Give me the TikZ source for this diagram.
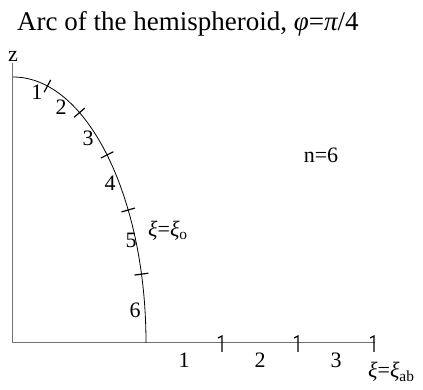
\documentclass[tikz,border=0pt]{standalone}
\usepackage{fontspec}
\setmainfont{Liberation Serif}
\usetikzlibrary{calc}

\begin{document}
\begin{tikzpicture}[x=1pt, y=1pt,
    axe/.style={line width=1pt, black!55},
    meridien/.style={line width=0.8pt},
    trait/.style={line width=1.2pt},
    num/.style={font=\fontsize{22}{22}\selectfont, inner sep=1pt},
    titre/.style={font=\fontsize{27}{27}\selectfont, inner sep=0pt},
  ]
  \useasboundingbox (-13,-47) rectangle (410,343);
  \node[titre, anchor=base west] (titre) at (4,312)
    {Arc of the hemispheroid, {\itshape φ}={\itshape π}/4};
  % les axes
  \coordinate (O) at (0,0);
  \coordinate (zmax) at (0,280);
  \coordinate (xmax) at (362,0);
  \draw[axe] (zmax) -- (O) -- (xmax);
  \node[num, anchor=south] (z) at (zmax) {z};
  % le quart d'ellipse
  \coordinate (pole) at (0,266);
  \draw[meridien] (pole) arc[start angle=90, end angle=0, x radius=133, y radius=266] coordinate (equateur);
  \foreach \t in {15,30,...,75}{
    \pgfmathsetmacro\nang{atan2(133*sin(\t),266*cos(\t))}
    \draw[trait] (\t:133 and 266) ++(\nang:7) -- ++(\nang:-14);
  }
  \foreach \k/\p in {1/{(24,251)},2/{(48,236)},3/{(75,205)},4/{(97,160)},5/{(118,103)},6/{(122,33)}}
    \node[num] (a\k) at \p {\k};
  \node[num, anchor=west] (xio) at (134,112) {{\itshape ξ}={\itshape ξ}\textsubscript{o}};
  % le bord plat
  \foreach \k in {1,2,3}{
    \draw[trait] ({133+76*\k},-9) coordinate (c\k) -- ++(0,16) -- ++(-4,-2);
    \node[num] (b\k) at ({95+76*\k},-17) {\k};
  }
  \node[num, anchor=north west, inner sep=0pt] (xiab) at ([shift={(-7,-19)}]xmax)
    {{\itshape ξ}={\itshape ξ}\textsubscript{ab}};
  \node[num] (n) at (308,188) {n=6};
\end{tikzpicture}
\end{document}
